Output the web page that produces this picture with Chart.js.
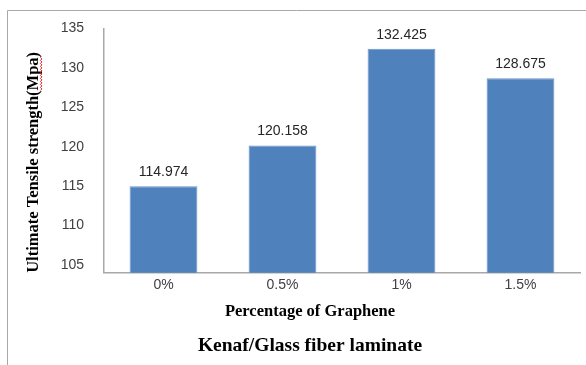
<!DOCTYPE html>
<html>
<head>
<meta charset="utf-8">
<script src="https://cdn.jsdelivr.net/npm/chart.js@4/dist/chart.umd.min.js"></script>
<style>
  html, body { margin: 0; padding: 0; background: #fff; }
  #wrap { width: 586px; height: 365px; position: relative; }
</style>
</head>
<body>
<div id="wrap"><canvas id="c" width="586" height="365"></canvas></div>
<script>
// Tensile strength of kenaf/glass fiber laminate by graphene content
const categories = ['0%', '0.5%', '1%', '1.5%'];
const strengthValues = [114.974, 120.158, 132.425, 128.675];
const yTickValues = [105, 110, 115, 120, 125, 130, 135];

const tickFont = { family: '"Liberation Sans", Arial, sans-serif', size: 14 };
const serifBold = (size) => ({ family: '"Liberation Serif", "Times New Roman", serif', size: size, weight: 'bold' });

// Outer frame: thin gray rule along the top and left edges
const framePlugin = {
  id: 'frame',
  beforeDraw(chart) {
    const ctx = chart.ctx;
    ctx.save();
    ctx.strokeStyle = '#a8a8a8';
    ctx.lineWidth = 1;
    ctx.beginPath();
    ctx.moveTo(7.5, 365);
    ctx.lineTo(7.5, 10.5);
    ctx.lineTo(586, 10.5);
    ctx.stroke();
    ctx.restore();
  }
};

// Value labels printed above each bar
const valueLabelPlugin = {
  id: 'valueLabels',
  afterDatasetsDraw(chart) {
    const ctx = chart.ctx;
    const meta = chart.getDatasetMeta(0);
    const data = chart.data.datasets[0].data;
    ctx.save();
    ctx.font = '14px "Liberation Sans", Arial, sans-serif';
    ctx.fillStyle = '#262626';
    ctx.textAlign = 'center';
    ctx.textBaseline = 'bottom';
    meta.data.forEach((bar, i) => {
      ctx.fillText(data[i].toFixed(3), bar.x, bar.y - 7);
    });
    ctx.restore();
  }
};

// Red wavy underline beneath "Mpa" in the vertical axis title
const squigglePlugin = {
  id: 'squiggle',
  afterDraw(chart) {
    const scale = chart.scales.y;
    const t = scale.options.title;
    const font = Chart.helpers.toFont(t.font);
    const pad = Chart.helpers.toPadding(t.padding);
    const ctx = chart.ctx;
    ctx.save();
    ctx.font = font.string;
    const full = t.text;
    const startIdx = full.indexOf('Mpa');
    const d0 = ctx.measureText(full.slice(0, startIdx)).width;
    const d1 = ctx.measureText(full.slice(0, startIdx + 3)).width;
    const cx = scale.left + font.lineHeight / 2 + pad.top;
    const yStart = scale.bottom - d0;
    const yEnd = scale.bottom - d1;
    const x = cx + font.size * 0.42;
    ctx.strokeStyle = '#e02020';
    ctx.lineWidth = 1;
    ctx.beginPath();
    let k = 0;
    for (let y = yStart; y >= yEnd; y -= 1.5, k++) {
      const xx = x + (k % 2 === 0 ? 0 : 1.5);
      if (k === 0) ctx.moveTo(xx, y); else ctx.lineTo(xx, y);
    }
    ctx.stroke();
    ctx.restore();
  }
};

new Chart(document.getElementById('c'), {
  type: 'bar',
  data: {
    labels: categories,
    datasets: [{
      data: strengthValues,
      backgroundColor: '#4f81bd',
      borderColor: '#6b95c8',
      borderWidth: 1,
      categoryPercentage: 1.0,
      barPercentage: 0.57
    }]
  },
  options: {
    responsive: false,
    animation: false,
    devicePixelRatio: 1,
    layout: { padding: { top: 28, right: 6, left: 40, bottom: 0 } },
    plugins: {
      legend: { display: false },
      tooltip: { enabled: false },
      subtitle: {
        display: true,
        position: 'bottom',
        text: 'Percentage of Graphene',
        color: '#000',
        font: serifBold(16.5),
        padding: { top: 5, bottom: 0 }
      },
      title: {
        display: true,
        position: 'bottom',
        text: 'Kenaf/Glass fiber laminate',
        color: '#000',
        font: serifBold(19.5),
        padding: { top: 13, bottom: 7 }
      }
    },
    scales: {
      x: {
        grid: { display: false, drawTicks: false },
        border: { display: true, color: '#a8a8a8', width: 1.5 },
        ticks: { color: '#404040', font: tickFont, padding: 4 },
        afterFit(scale) { scale.height = 24; }
      },
      y: {
        min: 104,
        max: 135,
        grid: { display: false, drawTicks: false },
        border: { display: true, color: '#a8a8a8', width: 1.5 },
        ticks: { color: '#404040', font: tickFont, padding: 20 },
        afterBuildTicks(scale) { scale.ticks = yTickValues.map(v => ({ value: v })); },
        title: {
          display: true,
          align: 'start',
          text: 'Ultimate Tensile strength(Mpa)',
          color: '#000',
          font: serifBold(16.5),
          padding: { top: -16.4, bottom: 0 }
        },
        afterFit(scale) { scale.width = 64; }
      }
    }
  },
  plugins: [framePlugin, valueLabelPlugin, squigglePlugin]
});
</script>
</body>
</html>
